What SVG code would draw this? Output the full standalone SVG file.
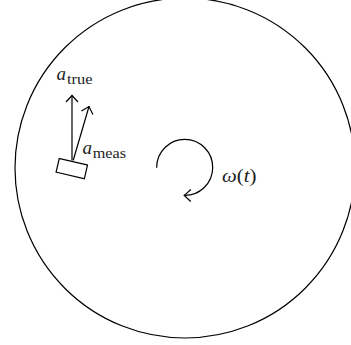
<svg xmlns="http://www.w3.org/2000/svg" width="351" height="345" viewBox="0 0 351 345">
<style>
.ln{fill:none;stroke:#000;stroke-width:1.2;stroke-linecap:round}
.tx{font-family:"Liberation Serif","Times New Roman",serif;fill:#222}
.it{font-style:italic}
</style>
<defs>
<marker id="ah" markerUnits="userSpaceOnUse" markerWidth="16" markerHeight="16" viewBox="-8 -8 16 16" refX="0" refY="0" orient="auto" overflow="visible">
<path d="M-6.5,-6 L0,0 L-6.5,6" fill="none" stroke="#000" stroke-width="1.2" stroke-linejoin="miter"/>
</marker>
</defs>
<rect width="351" height="345" fill="#fff"/>
<g id="disc">
<circle cx="185" cy="168" r="170" class="ln" stroke-width="1.3"/>
</g>
<g id="sensor">
<rect x="-14.5" y="-7" width="29" height="14" class="ln" transform="translate(71.8,168.6) rotate(13)"/>
</g>
<g id="connectors">
<line x1="72" y1="160" x2="72" y2="95.5" class="ln" marker-end="url(#ah)"/>
<line x1="73.3" y1="160" x2="89" y2="106.5" class="ln" marker-end="url(#ah)"/>
<path d="M156.7,167.3 A28,28 0 1 1 184.3,195.4" class="ln" marker-end="url(#ah)"/>
</g>
<g id="label-atrue">
<text class="tx it" x="56.5" y="79.5" font-size="19">a</text>
<text class="tx" x="67" y="84" font-size="14" textLength="25.5" lengthAdjust="spacingAndGlyphs">true</text>
</g>
<g id="label-ameas">
<text class="tx it" x="82.5" y="154" font-size="19">a</text>
<text class="tx" x="92.7" y="158" font-size="14" textLength="33.3" lengthAdjust="spacingAndGlyphs">meas</text>
</g>
<g id="label-omega">
<text class="tx" x="222" y="182" font-size="19" textLength="34.5" lengthAdjust="spacingAndGlyphs"><tspan class="it">ω</tspan>(<tspan class="it">t</tspan>)</text>
</g>
</svg>
